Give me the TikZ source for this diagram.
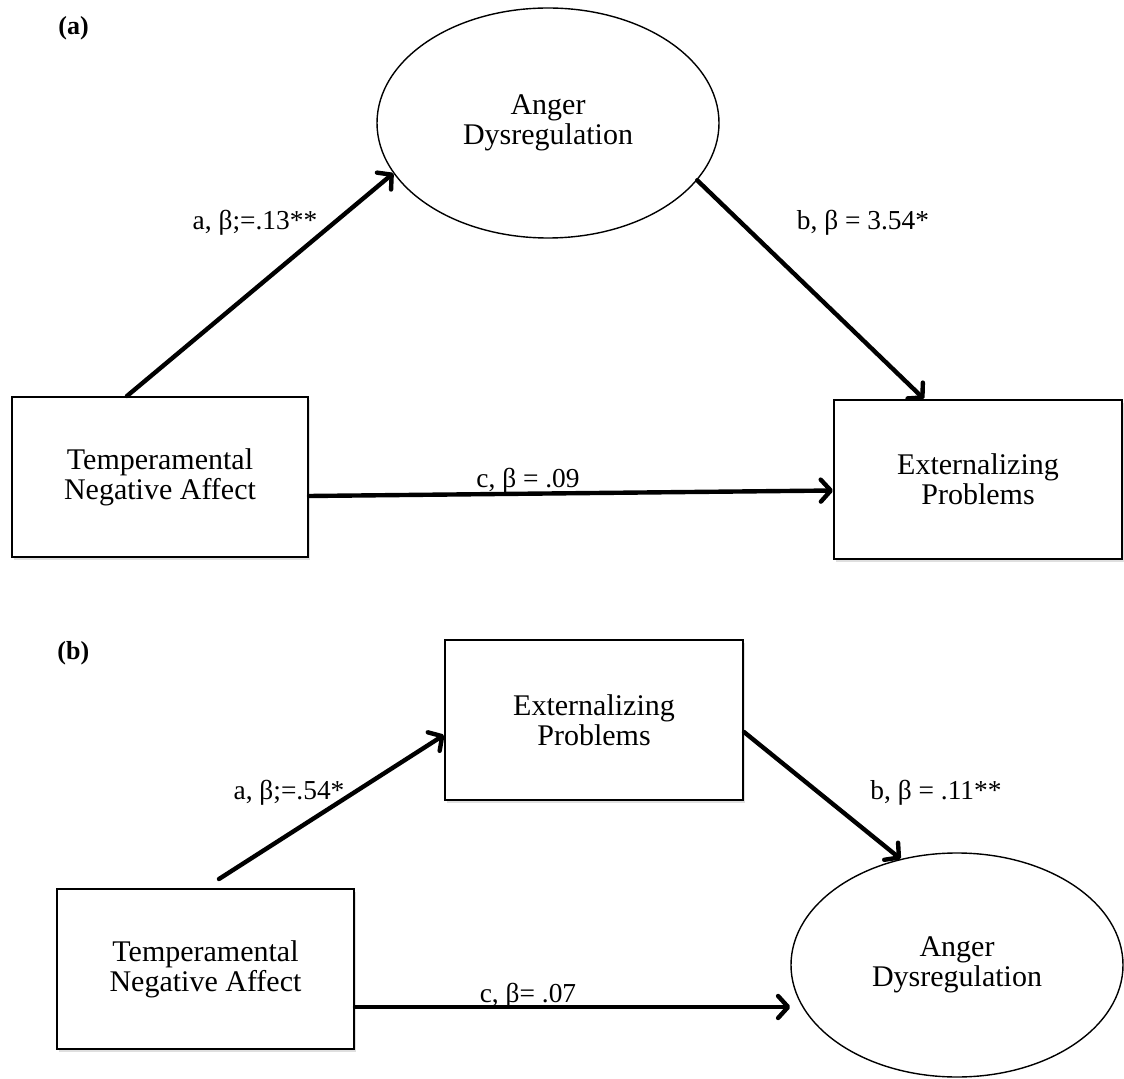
\documentclass[tikz,border=0pt]{standalone}
\usepackage{fontspec}
\setmainfont{Liberation Serif}
\usetikzlibrary{arrows.meta,shapes.geometric,shadows}
\begin{document}
\begin{tikzpicture}[x=0.5pt,y=-0.5pt,
  boxnode/.style={draw,line width=1pt,fill=white,rectangle,inner sep=0pt,align=center,
    font=\fontsize{15}{15}\selectfont,
    drop shadow={opacity=0.25,shadow xshift=1pt,shadow yshift=-1.3pt}},
  ellnode/.style={draw,line width=0.7pt,fill=white,ellipse,inner sep=0pt,align=center,
    font=\fontsize{15}{15}\selectfont},
  lbl/.style={inner sep=0pt,font=\fontsize{13.7}{14}\selectfont},
  panel/.style={inner sep=0pt,anchor=west,font=\fontsize{13}{13}\selectfont\bfseries},
  arr/.style={line width=2.2pt,line cap=round,-{Straight Barb[length=5pt,width=11pt,round]}}]
\useasboundingbox (0,0) rectangle (1124,1079);
% ---------- panel (a)
\node[panel] (pa) at (58,28) {(a)};
\node[boxnode,minimum width=148pt,minimum height=80pt] (ta) at (160,477) {Temperamental\\Negative Affect};
\node[boxnode,minimum width=144pt,minimum height=79.5pt] (ea) at (978,479.5) {Externalizing\\Problems};
\node[ellnode,minimum width=171pt,minimum height=115pt] (ad) at (548,123) {Anger\\Dysregulation};
\draw[arr] ([xshift=-16.5pt]ta.north) -- (ad.198);
\draw[arr] (ad.339) -- ([xshift=-27pt]ea.north);
\draw[arr] ([yshift=-9.5pt]ta.east) -- ([yshift=-5.5pt]ea.west);
\node[lbl] (la) at (255,223) {a, β;=.13**};
\node[lbl] (lb) at (863,223) {b, β = 3.54*};
\node[lbl,anchor=base] (lc) at (528,488) {c, β = .09};
% ---------- panel (b)
\node[panel] (pb) at (57,653) {(b)};
\node[boxnode,minimum width=149pt,minimum height=80pt] (eb) at (594,720) {Externalizing\\Problems};
\node[boxnode,minimum width=148.5pt,minimum height=80pt] (tb) at (205.5,969) {Temperamental\\Negative Affect};
\node[ellnode,minimum width=166pt,minimum height=112pt] (bd) at (957,965) {Anger\\Dysregulation};
\draw[arr] ([xshift=6.75pt,yshift=4.5pt]tb.north) -- ([yshift=-7.5pt]eb.west);
\draw[arr] ([yshift=-6pt]eb.east) -- (bd.118);
\draw[arr] ([yshift=-19pt]tb.east) -- ([yshift=-19pt]tb.east -| bd.west);
\node[lbl] (lab) at (289,793) {a, β;=.54*};
\node[lbl,anchor=west] (lbb) at (870,793) {b, β = .11**};
\node[lbl,anchor=base] (lcb) at (528,1002) {c, β= .07};
\end{tikzpicture}
\end{document}
